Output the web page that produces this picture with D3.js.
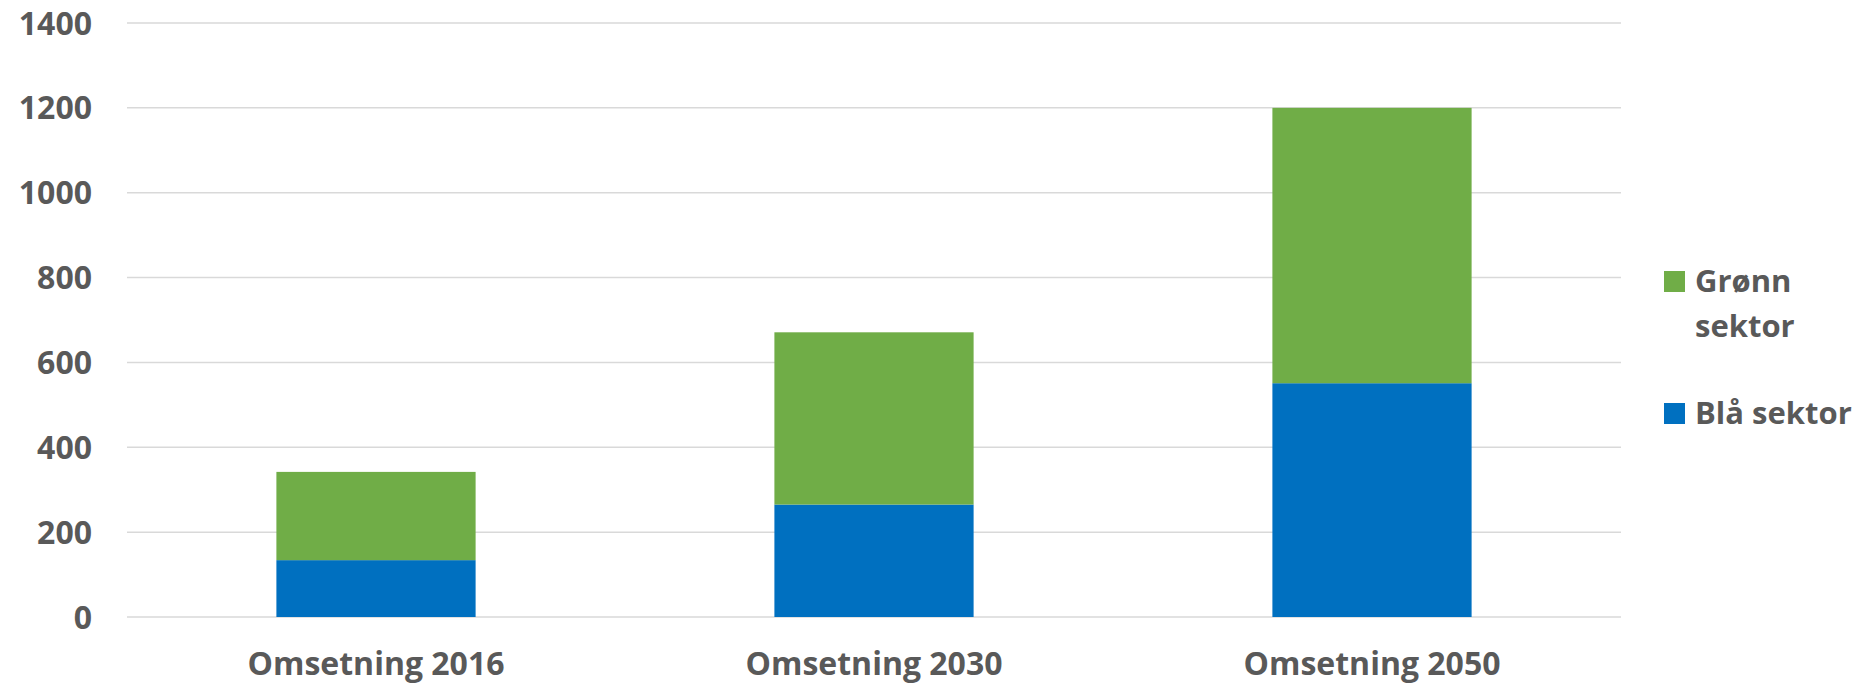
<!DOCTYPE html>
<html>
<head>
<meta charset="utf-8">
<script src="https://cdn.jsdelivr.net/npm/d3@7"></script>
<style>
  body { margin: 0; background: #fff; }
  text { font-family: "Open Sans", sans-serif; font-weight: bold; fill: #595959; }
</style>
</head>
<body>
<div id="plot"></div>
<script>
// data
const categories = ["Omsetning 2016", "Omsetning 2030", "Omsetning 2050"];
const blaSektor = [134, 265, 551];
const gronnSektor = [208, 406, 649];
const yTicks = [0, 200, 400, 600, 800, 1000, 1200, 1400];
const seriesNames = ["Blå sektor", "Grønn sektor"];
const seriesColors = ["#0070c0", "#70ad47"];

const width = 1860, height = 684;
const margin = {left: 127, right: 239, top: 23, bottom: 67};

const table = categories.map((c, i) => ({cat: c, bla: blaSektor[i], gronn: gronnSektor[i]}));
const stack = d3.stack().keys(["bla", "gronn"])(table);

const xScale = d3.scaleBand()
    .domain(categories)
    .range([margin.left, width - margin.right])
    .paddingInner(0.6)
    .paddingOuter(0.3);

const yScale = d3.scaleLinear()
    .domain([0, 1400])
    .range([height - margin.bottom, margin.top]);

const svg = d3.select("#plot")
    .append("svg")
    .attr("width", width)
    .attr("height", height);

// gridlines
svg.append("g")
    .selectAll("line")
    .data(yTicks)
    .join("line")
    .attr("x1", margin.left)
    .attr("x2", width - margin.right)
    .attr("y1", d => yScale(d))
    .attr("y2", d => yScale(d))
    .attr("stroke", "#d9d9d9")
    .attr("stroke-width", 1.5);

// y labels
svg.append("g")
    .selectAll("text")
    .data(yTicks)
    .join("text")
    .attr("x", 92)
    .attr("y", d => yScale(d))
    .attr("dy", "0.36em")
    .attr("text-anchor", "end")
    .style("font-size", "32px")
    .text(d => d);

// bars
svg.append("g")
    .selectAll("g")
    .data(stack)
    .join("g")
    .attr("fill", (d, i) => seriesColors[i])
    .selectAll("rect")
    .data(d => d)
    .join("rect")
    .attr("x", d => xScale(d.data.cat))
    .attr("width", xScale.bandwidth())
    .attr("y", d => yScale(d[1]))
    .attr("height", d => yScale(d[0]) - yScale(d[1]));

// x labels
svg.append("g")
    .selectAll("text")
    .data(categories)
    .join("text")
    .attr("x", d => xScale(d) + xScale.bandwidth() / 2)
    .attr("y", 675)
    .attr("text-anchor", "middle")
    .style("font-size", "32px")
    .text(d => d);

// legend
const legend = svg.append("g");
const legendItems = [
    {name: ["Grønn", "sektor"], color: seriesColors[1], y: 271},
    {name: ["Blå sektor"], color: seriesColors[0], y: 403}
];
legendItems.forEach(it => {
    legend.append("rect")
        .attr("x", 1664).attr("y", it.y)
        .attr("width", 21).attr("height", 21)
        .attr("fill", it.color);
    it.name.forEach((line, j) => {
        legend.append("text")
            .attr("x", 1695)
            .attr("y", it.y + 21 + j * 45)
            .style("font-size", "31px")
            .text(line);
    });
});
</script>
</body>
</html>
